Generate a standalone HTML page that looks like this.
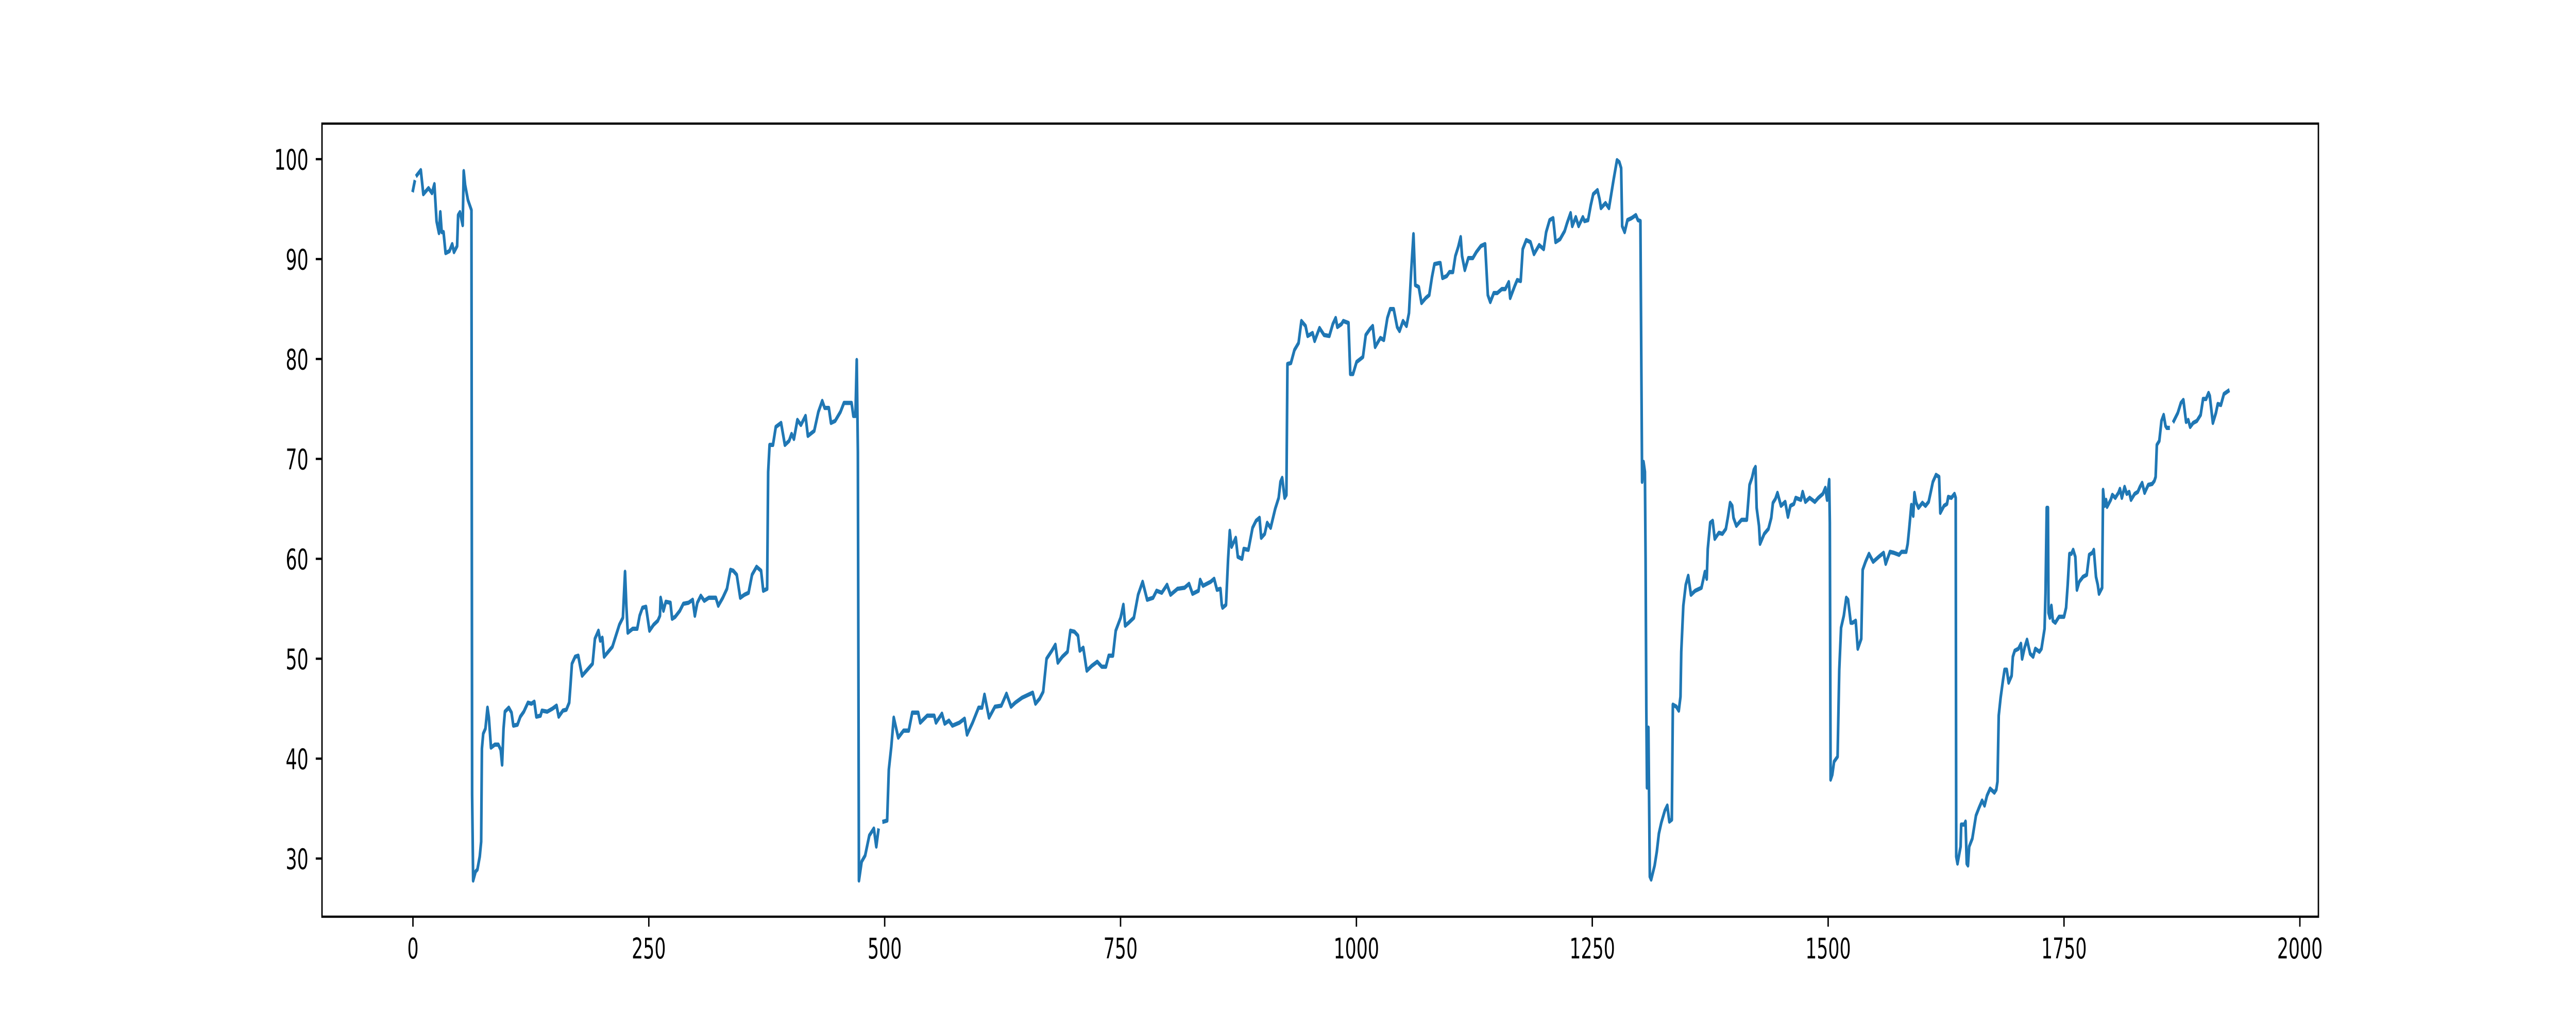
<!DOCTYPE html>
<html><head><meta charset="utf-8"><style>
html,body{margin:0;padding:0;background:#fff;width:100%;height:100%;overflow:hidden;}
svg{display:block;width:100vw;height:100vh;}
text{font-family:"DejaVu Sans","Liberation Sans",sans-serif;font-size:55.6px;fill:#000;}
</style></head><body>
<svg id="chart" viewBox="0 0 8000 2000" preserveAspectRatio="none" xmlns="http://www.w3.org/2000/svg">
<rect x="0" y="0" width="8000" height="2000" fill="#fff"/>
<g id="plot"></g>
<g id="axes"></g>
</svg>
<script>
const xTicks = [0,250,500,750,1000,1250,1500,1750,2000];
const yTicks = [30,40,50,60,70,80,90,100];
const xVals = [0,1.7,null,4.2,8.3,11,16.5,20.2,22.7,25,27.6,29,30.5,32.4,34.6,38.7,41.6,43.5,46.8,47.9,49.8,52.7,53.8,55.3,58.3,62,62.7,63.8,66.4,68.3,70.8,72.3,73.1,74.5,76.8,79,80.5,82.7,86.8,90.5,93,94.5,96,97.5,101.6,104.5,106.4,110.8,113.8,117.5,121.9,125.6,128.6,130.8,135.2,136.7,142.3,147.8,152.2,154.5,158.9,162.6,165.6,167,168.5,171.9,175.2,177.4,179.3,183,190.4,192.9,196.6,198.5,200.7,202.6,207,211.4,215.1,218.8,222.5,224.8,226.2,227.7,232.9,237.7,240.3,243.3,247,250.7,255.1,259.5,261.8,262.5,265.5,268,272.9,274.7,278,282.9,286.6,292.1,296.5,298.8,301.4,305.1,308.8,313.6,321,323.6,328.4,332.8,336.5,339.5,343.2,346.9,351.3,355.7,359.4,364.2,369,371.3,375.4,376.5,378,381.6,384.6,390.2,394.2,398.7,401.3,403.8,407.5,411.2,416.1,418.6,425.3,429.7,433.8,436.4,440.8,443.1,447.5,453.1,456.8,460.5,464.9,466.8,469,470.4,471.6,472.7,475.6,479.3,483.7,488.5,491.1,493.3,null,498.9,502.6,504.4,507,509.6,514.4,520,525.5,529.2,535.5,537.7,545.1,552.5,554.4,560.7,563.6,568.1,571.8,579.2,584.7,587.3,593.2,599.5,603.2,605.8,610.6,616.9,623.6,629.1,633.9,638.4,645.7,652.4,656.9,659.8,664.2,668,671.6,677.2,680.9,683.5,688.3,693.8,696.8,701.2,704.9,706.8,710.5,714.2,719.7,725.3,730.1,734.5,737.5,741.9,744.9,750.1,753,754.9,758.6,764.1,768.6,773.4,778.2,784.5,788.2,793.7,799.3,803,810.4,817.8,822.6,826.3,832.6,834.4,837.4,845.5,849.2,852.2,855.9,857.3,858.1,861.8,864,865.8,867.7,872.1,874.3,878.8,880.6,885.5,889.9,893.6,897.3,899.1,902.8,905.4,909.1,913.9,917.6,919.5,921.3,923.9,925.8,926.9,930.6,934.3,938.7,941.7,946.1,948.3,953.5,955.7,960.9,965.7,971.3,975,978,979.8,984.2,986.1,991.6,993.5,996.4,1000.2,1006.9,1009.9,1014.3,1017.3,1019.8,1025.4,1029.1,1032.8,1035.8,1039.5,1043.2,1045.7,1049.4,1053.1,1055.7,1058,1060.5,1062.4,1066.1,1069,1073.5,1077.2,1080.1,1082.7,1087.5,1089,1091.2,1095.7,1098.6,1102.3,1104.9,1107.9,1110.5,1112,1114.9,1118.6,1123.4,1127.1,1131.9,1136.4,1139.3,1141.9,1145.6,1149.3,1154.1,1157.8,1161.5,1163,1167.8,1170.4,1174.1,1176.3,1180,1184.5,1188.2,1193.7,1198.5,1201.1,1204.8,1208.5,1211.1,1215.9,1220.7,1223.3,1227,1228.8,1232.5,1235.5,1240,1241.8,1245.5,1248.4,1251,1255.5,1257.7,1259.2,1264,1267.7,1272.5,1276.2,1278.7,1280.6,1281.7,1284.3,1287.3,1291.7,1296.2,1298.4,1301,1302.1,1302.8,1304.3,1305.8,1306.5,1307.3,1308,1309.5,1311,1312.4,1316.1,1318.4,1320.6,1323.2,1326.9,1329.5,1331.7,1334.3,1335.4,1339.1,1341.7,1343.5,1344.3,1346.5,1349.1,1351.7,1354.6,1359.1,1365.7,1369.4,1371.3,1372.4,1375,1377.6,1379.8,1384.2,1387.9,1391.6,1393.8,1396.1,1398.3,1399.7,1402.7,1408.2,1413.8,1416.7,1419.3,1421.2,1423,1424.2,1426.7,1427.8,1432.3,1436.7,1439.7,1441.5,1444.1,1446.3,1450,1454.5,1457.4,1460,1463.7,1465.6,1471.1,1473,1475.9,1480.4,1485.9,1489.6,1494.4,1497,1498.9,1501.1,1501.8,1502.6,1504.4,1506.3,1510,1511.8,1513.7,1516.6,1519.2,1521.1,1524,1525.9,1529.2,1531.4,1535.1,1536.6,1539.6,1543.3,1547.7,1553.6,1558.8,1561,1565.5,1569.6,1575.2,1577.8,1582.7,1584.3,1585.9,1588.2,1590.2,1591.5,1593.4,1595.7,1599.9,1603.2,1606.5,1608.8,1611,1614.3,1617.6,1618.9,1622.8,1626,1627.3,1630.6,1633.9,1635.2,1635.8,1637.1,1640.4,1641,1644.3,1645.6,1646.9,1648.2,1649.5,1652.8,1656.7,1660,1663.2,1665.8,1668.4,1671.7,1676.2,1678.2,1679.5,1680.8,1682.8,1685.4,1687,1689.3,1691.3,1694.5,1695.8,1697.8,1701.7,1704.3,1705.6,1708.2,1710.8,1714.1,1717.3,1719.6,1723.9,1726.1,1729.4,1730.4,1731.7,1733,1733.6,1735,1736.6,1738.2,1740.8,1744.7,1750,1752.2,1753.9,1755.8,1757.8,1759.7,1762,1763.7,1766.2,1770.2,1774.1,1776.7,1780,1781.6,1783.9,1785.8,1787.1,1790.4,1791.4,1793,1794.6,1795.6,1799.5,1801.2,1804.4,1807.7,1809.3,1811.3,1814.2,1816.5,1819.1,1821,1824.9,1828.2,1830.5,1832.8,1835.4,1839.3,1843.5,1845.8,1847.1,1848.4,1851,1853.3,1855.6,1857.6,1858.9,1860.8,null,1866.4,1870.6,1873.9,1876.5,1879.4,1881.7,1883.7,1886.9,1890.8,1894.8,1897.4,1900.6,1903.2,1904.5,1907.8,1911,1913,1916.3,1919.5,1924.1];
const yVals = [96.9,97.7,null,98.4,98.9,96.5,97.1,96.6,97.5,93.8,92.6,94.7,92.7,92.7,90.6,90.8,91.5,90.7,91.3,94.4,94.7,93.4,98.8,97.4,95.9,94.9,36.4,27.8,28.7,28.9,30.2,31.7,41,42.5,43,45.1,44.1,41.1,41.4,41.4,40.9,39.4,43,44.7,45.1,44.6,43.3,43.4,44.2,44.7,45.6,45.5,45.7,44.2,44.3,44.8,44.7,45,45.3,44.2,44.8,44.9,45.6,47.4,49.5,50.2,50.3,49.2,48.3,48.7,49.5,52,52.8,51.8,52.1,50.2,50.7,51.2,52.3,53.4,54.1,58.7,55.3,52.6,53,53,54.3,55.1,55.2,52.8,53.4,53.8,54.3,56.1,54.8,55.7,55.6,54,54.2,54.8,55.5,55.6,55.9,54.3,55.6,56.3,55.8,56.1,56.1,55.3,56.1,57,58.9,58.8,58.4,56.1,56.4,56.6,58.4,59.2,58.8,56.8,57,68.7,71.4,71.4,73.2,73.6,71.4,71.8,72.5,72,73.9,73.4,74.3,72.3,72.8,74.7,75.8,75.1,75.1,73.6,73.8,74.7,75.6,75.6,75.6,74.3,74.3,79.9,70.7,27.8,29.7,30.3,32.3,33,31.2,32.8,null,33.7,33.8,38.9,41.2,44.1,42.1,42.8,42.8,44.6,44.6,43.6,44.3,44.3,43.6,44.5,43.5,43.8,43.3,43.6,44,42.4,43.6,45.1,45.1,46.4,44.1,45.2,45.3,46.5,45.2,45.6,46.1,46.4,46.6,45.5,46,46.7,50,50.8,51.4,49.6,50.2,50.7,52.8,52.7,52.3,50.8,51.1,48.8,49.3,49.7,49.2,49.2,50.3,50.3,52.8,54.1,55.4,53.3,53.6,54.1,56.4,57.7,55.9,56.1,56.8,56.6,57.4,56.4,57,57.1,57.5,56.5,56.8,57.9,57.3,57.7,58,56.9,57,55.4,55.1,55.4,60,62.8,61.2,62.1,60.2,60,61,60.9,63.1,63.8,64.1,62.1,62.5,63.6,63.1,65,66.1,67.7,68.1,66.1,66.4,79.5,79.6,80.9,81.6,83.8,83.3,82.3,82.6,81.8,83.1,82.4,82.3,83.5,84.1,83.2,83.5,83.8,83.6,78.5,78.5,79.7,80.2,82.4,83,83.3,81.2,82.1,81.9,84.1,85,85,83.2,82.8,83.8,83.3,84.6,88.7,92.5,87.4,87.2,85.6,86.1,86.4,88.2,89.5,89.6,89.6,88.1,88.3,88.7,88.7,90.3,91.2,92.2,90.3,88.9,90.1,90.1,90.7,91.3,91.5,86.4,85.7,86.6,86.6,87,87,87.7,86.1,87.3,87.9,87.8,91,91.9,91.7,90.5,91.4,91,92.7,93.9,94.1,91.7,92,92.8,93.6,94.6,93.3,94.2,93.3,94.2,93.8,93.9,95.4,96.5,96.9,96,95.1,95.6,95.1,97.9,99.9,99.7,99.1,93.3,92.7,93.9,94.1,94.4,93.9,93.8,77.9,67.7,69.7,68.7,60,45.1,37.1,43.1,28.2,27.9,29.3,30.7,32.5,33.6,34.8,35.3,33.7,33.9,45.4,45.2,44.8,46.2,50.7,55.3,57.4,58.3,56.4,56.8,57.1,58.7,58,61,63.6,63.8,62,62.6,62.5,63,64.2,65.6,65.3,64.1,63.3,63.9,63.9,67.4,68.1,68.9,69.2,65.1,63.3,61.5,62.5,63,64.1,65.6,66,66.6,65.3,65.7,64.2,65.3,65.5,66.1,65.9,66.7,65.7,66.1,65.7,66.1,66.5,67.1,65.9,67.9,63.6,37.9,38.4,39.7,40.2,48.9,53.1,54.3,56.1,55.9,53.6,53.6,53.8,51,52,58.9,59.7,60.5,59.7,60.2,60.6,59.5,60.7,60.6,60.4,60.7,60.7,61.5,63,65.4,64.3,66.6,65.6,65.1,65.6,65.3,65.7,66.7,67.7,68.4,68.2,64.6,65.3,65.5,66.2,66.1,66.5,66.1,30.2,29.5,31.2,33.4,33.4,33.7,29.5,29.3,31.2,32,34.3,35.1,35.8,35.3,36.3,37,36.6,36.9,37.7,44.3,46.1,47.9,48.9,48.9,47.6,48.3,50.2,50.8,51,51.5,50,51.1,51.9,50.5,50.2,51,50.7,51,53,56.6,65.1,65.1,54.6,54.1,55.3,53.8,53.6,54.2,54.2,55.1,57.4,60.5,60.5,60.9,60.2,56.9,57.7,58.2,58.4,60.4,60.6,60.9,58.2,57.4,56.5,57.1,66.9,65.3,65.9,65.2,65.9,66.4,66.1,66.6,67,66.1,67.2,66.5,66.7,65.9,66.5,66.7,67.2,67.6,66.6,67.4,67.5,67.8,68.2,71.4,71.8,73.8,74.4,73.3,73.1,73.1,null,73.8,74.6,75.6,75.9,73.7,73.9,73.2,73.6,73.8,74.4,76,76,76.6,76.3,73.6,74.6,75.5,75.4,76.5,76.8];

const AX = {left:1000, right:7200, top:240, bottom:1780};
const X_MIN = -96.4, X_PER = 2.93;
const Y_TOP = 103.56, Y_PER = 19.4;
function sx(v){ return AX.left + (v - X_MIN) * X_PER; }
function sy(v){ return AX.top + (Y_TOP - v) * Y_PER; }
const NS = "http://www.w3.org/2000/svg";
const plot = document.getElementById('plot');
const axes = document.getElementById('axes');

let d = "", pen = false;
for (let i = 0; i < xVals.length; i++) {
  if (xVals[i] === null || yVals[i] === null) { pen = false; continue; }
  d += (pen ? "L" : "M") + sx(xVals[i]).toFixed(1) + " " + sy(yVals[i]).toFixed(1);
  pen = true;
}
const line = document.createElementNS(NS, 'path');
line.setAttribute('d', d);
line.setAttribute('fill', 'none');
line.setAttribute('stroke', '#1f77b4');
line.setAttribute('stroke-width', '8.3');
line.setAttribute('stroke-linejoin', 'round');
line.setAttribute('stroke-linecap', 'square');


plot.appendChild(line);

const frame = document.createElementNS(NS, 'rect');
frame.setAttribute('x', AX.left); frame.setAttribute('y', AX.top);
frame.setAttribute('width', AX.right - AX.left); frame.setAttribute('height', AX.bottom - AX.top);
frame.setAttribute('fill', 'none'); frame.setAttribute('stroke', '#000'); frame.setAttribute('stroke-width', '4.4');


axes.appendChild(frame);

xTicks.forEach(t => {
  const x = sx(t);
  const tk = document.createElementNS(NS, 'line');
  tk.setAttribute('x1', x); tk.setAttribute('x2', x);
  tk.setAttribute('y1', AX.bottom); tk.setAttribute('y2', AX.bottom + 19.4);
  tk.setAttribute('stroke', '#000'); tk.setAttribute('stroke-width', '4.4');
  
  
  axes.appendChild(tk);
  const tx = document.createElementNS(NS, 'text');
  tx.setAttribute('x', x); tx.setAttribute('y', 1861);
  tx.setAttribute('text-anchor', 'middle');
  tx.textContent = String(t);
  
  
  axes.appendChild(tx);
});
yTicks.forEach(t => {
  const y = sy(t);
  const tk = document.createElementNS(NS, 'line');
  tk.setAttribute('x1', AX.left - 19.4); tk.setAttribute('x2', AX.left);
  tk.setAttribute('y1', y); tk.setAttribute('y2', y);
  tk.setAttribute('stroke', '#000'); tk.setAttribute('stroke-width', '4.4');
  
  
  axes.appendChild(tk);
  const tx = document.createElementNS(NS, 'text');
  tx.setAttribute('x', 958); tx.setAttribute('y', y + 20.3);
  tx.setAttribute('text-anchor', 'end');
  tx.textContent = String(t);
  
  
  axes.appendChild(tx);
});
</script>
</body></html>
